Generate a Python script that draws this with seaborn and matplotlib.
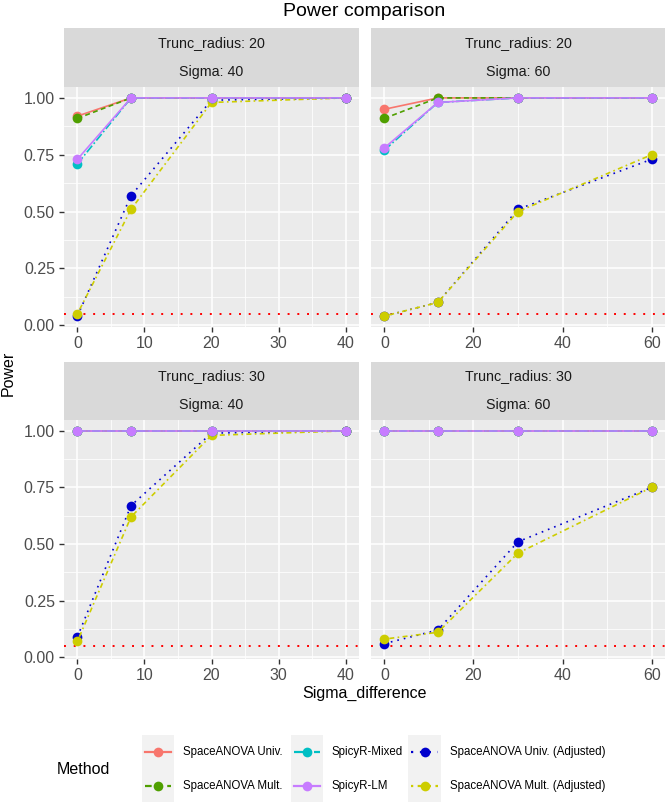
import matplotlib
matplotlib.use("Agg")
import matplotlib.pyplot as plt
import seaborn as sns
import numpy as np
import pandas as pd
from matplotlib.lines import Line2D
from matplotlib.patches import Rectangle

# ---- data ----
metodos = ["SpaceANOVA Univ.", "SpaceANOVA Mult.", "SpicyR-Mixed", "SpicyR-LM",
           "SpaceANOVA Univ. (Adjusted)", "SpaceANOVA Mult. (Adjusted)"]

x_s40 = [0, 8, 20, 40]
x_s60 = [0, 12, 30, 60]

# Trunc_radius 20, Sigma 40
tr20_s40 = {
    "SpaceANOVA Univ.": [0.92, 1.00, 1.00, 1.00],
    "SpaceANOVA Mult.": [0.91, 1.00, 1.00, 1.00],
    "SpicyR-Mixed": [0.71, 1.00, 1.00, 1.00],
    "SpicyR-LM": [0.73, 1.00, 1.00, 1.00],
    "SpaceANOVA Univ. (Adjusted)": [0.04, 0.57, 0.99, 1.00],
    "SpaceANOVA Mult. (Adjusted)": [0.05, 0.51, 0.98, 1.00],
}
# Trunc_radius 20, Sigma 60
tr20_s60 = {
    "SpaceANOVA Univ.": [0.95, 1.00, 1.00, 1.00],
    "SpaceANOVA Mult.": [0.91, 1.00, 1.00, 1.00],
    "SpicyR-Mixed": [0.77, 0.98, 1.00, 1.00],
    "SpicyR-LM": [0.78, 0.98, 1.00, 1.00],
    "SpaceANOVA Univ. (Adjusted)": [0.04, 0.10, 0.51, 0.73],
    "SpaceANOVA Mult. (Adjusted)": [0.04, 0.10, 0.50, 0.75],
}
# Trunc_radius 30, Sigma 40
tr30_s40 = {
    "SpaceANOVA Univ.": [1.00, 1.00, 1.00, 1.00],
    "SpaceANOVA Mult.": [1.00, 1.00, 1.00, 1.00],
    "SpicyR-Mixed": [1.00, 1.00, 1.00, 1.00],
    "SpicyR-LM": [1.00, 1.00, 1.00, 1.00],
    "SpaceANOVA Univ. (Adjusted)": [0.09, 0.67, 0.99, 1.00],
    "SpaceANOVA Mult. (Adjusted)": [0.07, 0.62, 0.98, 1.00],
}
# Trunc_radius 30, Sigma 60
tr30_s60 = {
    "SpaceANOVA Univ.": [1.00, 1.00, 1.00, 1.00],
    "SpaceANOVA Mult.": [1.00, 1.00, 1.00, 1.00],
    "SpicyR-Mixed": [1.00, 1.00, 1.00, 1.00],
    "SpicyR-LM": [1.00, 1.00, 1.00, 1.00],
    "SpaceANOVA Univ. (Adjusted)": [0.06, 0.12, 0.51, 0.75],
    "SpaceANOVA Mult. (Adjusted)": [0.08, 0.11, 0.46, 0.75],
}
alpha_nivel = 0.05

cores = {
    "SpaceANOVA Univ.": "#F8766D",
    "SpaceANOVA Mult.": "#4F9F00",
    "SpicyR-Mixed": "#00BFC4",
    "SpicyR-LM": "#C77CFF",
    "SpaceANOVA Univ. (Adjusted)": "#0000CD",
    "SpaceANOVA Mult. (Adjusted)": "#CDCD00",
}
tracos = {
    "SpaceANOVA Univ.": "",
    "SpaceANOVA Mult.": (3, 2),
    "SpicyR-Mixed": (5, 1.5, 1, 1.5),
    "SpicyR-LM": "",
    "SpaceANOVA Univ. (Adjusted)": (1, 3),
    "SpaceANOVA Mult. (Adjusted)": (1, 2, 3, 2),
}
# desenha ajustados primeiro, SpicyR-LM por cima
ordem_desenho = ["SpaceANOVA Univ. (Adjusted)", "SpaceANOVA Mult. (Adjusted)",
                 "SpaceANOVA Univ.", "SpaceANOVA Mult.", "SpicyR-Mixed", "SpicyR-LM"]

paineis = [
    (20, 40, x_s40, tr20_s40),
    (20, 60, x_s60, tr20_s60),
    (30, 40, x_s40, tr30_s40),
    (30, 60, x_s60, tr30_s60),
]

linhas = []
for tr, sg, xs, vals in paineis:
    for m in metodos:
        for x, y in zip(xs, vals[m]):
            linhas.append({"Trunc_radius": tr, "Sigma": sg, "Sigma_difference": x,
                           "Power": y, "Method": m})
df = pd.DataFrame(linhas)

# ---- layout (pixels) ----
W, H = 667, 802
plt.rcParams["font.family"] = ["Liberation Sans", "DejaVu Sans"]
fig = plt.figure(figsize=(W / 100, H / 100), dpi=100)


def add_px(x0, y0, x1, y1):
    return fig.add_axes([x0 / W, 1 - y1 / H, (x1 - x0) / W, (y1 - y0) / H])


colunas = [(64, 359), (371, 665)]
linhas_px = [(28, 87, 327), (362, 420, 659)]

for i, (tr, sg, xs, vals) in enumerate(paineis):
    cx0, cx1 = colunas[i % 2]
    sy0, py0, py1 = linhas_px[i // 2]

    # faixa (strip)
    st = add_px(cx0, sy0, cx1, py0)
    st.set_facecolor("#D9D9D9")
    st.set_xticks([])
    st.set_yticks([])
    for s in st.spines.values():
        s.set_visible(False)
    st.text(0.5, 0.75, f"Trunc_radius: {tr}", ha="center", va="center", fontsize=10.3, color="#1A1A1A")
    st.text(0.5, 0.25, f"Sigma: {sg}", ha="center", va="center", fontsize=10.3, color="#1A1A1A")

    ax = add_px(cx0, py0, cx1, py1)
    ax.set_facecolor("#EBEBEB")
    for s in ax.spines.values():
        s.set_visible(False)

    sub = df[(df["Trunc_radius"] == tr) & (df["Sigma"] == sg)]
    for k, m in enumerate(ordem_desenho):
        d = sub[sub["Method"] == m]
        sns.lineplot(data=d, x="Sigma_difference", y="Power", color=cores[m],
                     linewidth=1.2, marker="o", markersize=7, markeredgewidth=0,
                     dashes=False, ax=ax, legend=False, zorder=3 + k)
        if tracos[m] != "":
            ax.lines[-1].set_dashes(tracos[m])

    ax.axhline(alpha_nivel, color="red", linestyle=(0, (1, 4)), linewidth=1.4, zorder=2)

    xmax = xs[-1]
    pad = xmax * 0.05
    ax.set_xlim(-pad, xmax + pad)
    ax.set_ylim(-0.008, 1.048)
    passo = 10 if xmax == 40 else 20
    ax.set_xticks(np.arange(0, xmax + 1, passo))
    ax.set_xticks(np.arange(passo / 2, xmax, passo), minor=True)
    ax.set_yticks([0, 0.25, 0.5, 0.75, 1.0])
    ax.set_yticks([0.125, 0.375, 0.625, 0.875], minor=True)
    ax.grid(which="major", color="white", linewidth=1.1, zorder=0)
    ax.grid(which="minor", color="white", linewidth=0.55, zorder=0)
    ax.set_axisbelow(True)
    ax.tick_params(which="major", length=3.5, width=1.0, color="#333333",
                   labelsize=11.5, labelcolor="#4D4D4D", pad=3)
    ax.tick_params(which="minor", length=0)
    ax.set_xlabel("")
    ax.set_ylabel("")
    if i % 2 == 0:
        ax.set_yticklabels(["0.00", "0.25", "0.50", "0.75", "1.00"])
    else:
        ax.set_yticklabels([])
        ax.tick_params(axis="y", which="major", length=0)

fig.text(364.5 / W, 1 - 11 / H, "Power comparison", ha="center", va="center", fontsize=14, color="black")
fig.text(8 / W, 1 - 373 / H, "Power", ha="center", va="center", rotation=90, fontsize=11.5)
fig.text(364.5 / W, 1 - 693 / H, "Sigma_difference", ha="center", va="center", fontsize=11.5)

# ---- legenda ----
lg = add_px(0, 730, W, 802)
lg.set_xlim(0, W)
lg.set_ylim(802, 730)
lg.axis("off")
lg.text(83, 769, "Method", ha="center", va="center", fontsize=11.5)
col_keys = [(142, 174), (291, 323), (408, 441)]
row_y = [752, 786]
for j, m in enumerate(metodos):
    c, r = j // 2, j % 2
    kx0, kx1 = col_keys[c]
    if r == 0:
        lg.add_patch(Rectangle((kx0, 735), kx1 - kx0, 67, facecolor="#F2F2F2", edgecolor="none"))
    yk = row_y[r]
    ln = Line2D([kx0 + 3, kx1 - 3], [yk, yk], color=cores[m], linewidth=1.6)
    if tracos[m] != "":
        ln.set_dashes(tracos[m])
    lg.add_line(ln)
    lg.plot([(kx0 + kx1) / 2], [yk], "o", color=cores[m], markersize=7, markeredgewidth=0)
    lg.text(kx1 + 9, yk, m, ha="left", va="center", fontsize=8.3)

plt.savefig("out.png", dpi=100)
